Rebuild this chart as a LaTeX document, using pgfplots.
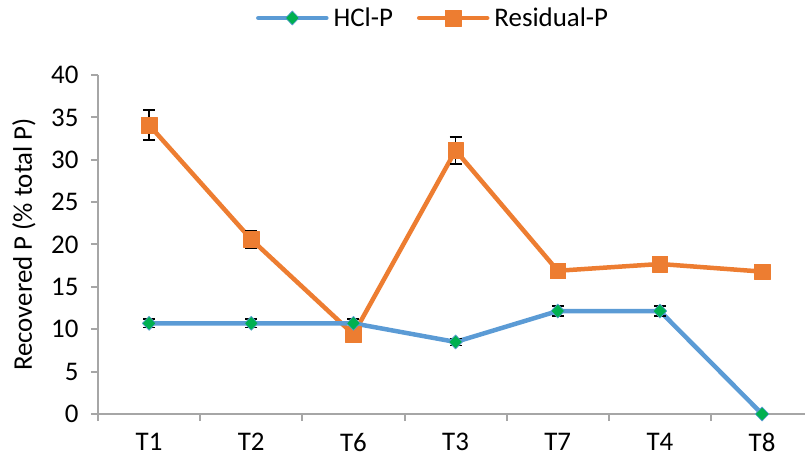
\documentclass[border=0pt]{standalone}
\usepackage{fontspec}
\setmainfont{Carlito}
\usepackage{pgfplots}
\usepackage{pgfplotstable}
\pgfplotsset{compat=1.18}
\usetikzlibrary{calc}
\definecolor{cblue}{HTML}{5B9BD5}
\definecolor{corange}{HTML}{ED7D31}
\definecolor{cgreen}{HTML}{00B050}
\definecolor{axisgray}{HTML}{A6A6A6}

\pgfplotstableread{
x y e
0 10.7 0.5
1 10.7 0.5
2 10.7 0.5
3 8.5 0.4
4 12.15 0.6
5 12.15 0.6
6 0 0
}\hcl
\pgfplotstableread{
x y e
0 34.1 1.75
1 20.6 1.0
2 9.4 0.5
3 31.1 1.6
4 16.9 0.7
5 17.7 0.8
6 16.8 0.6
}\res

\pgfplotsset{
  hclstyle/.style={color=cblue, line width=4.5bp, line join=round, line cap=round,
    mark=diamond*, mark size=7bp, mark options={fill=cgreen, draw=cblue, line width=0.6bp, xscale=1.3}},
  resstyle/.style={color=corange, line width=4.5bp, line join=round, line cap=round,
    mark=square*, mark size=7.8bp, mark options={fill=corange, draw=corange, line width=0.5bp}},
}

\begin{document}
\begin{tikzpicture}[font=\fontsize{27}{32}\selectfont]
\begin{axis}[
  scale only axis, width=707bp, height=339bp,
  xmin=-0.5, xmax=6.42, ymin=0, ymax=40,
  axis lines*=left,
  axis line style={draw=axisgray, line width=2bp},
  ytick={0,5,...,40},
  xtick={0,...,6}, xticklabels={T1,T2,T6,T3,T7,T4,T8},
  tick align=outside, major tick length=7bp,
  tick style={draw=axisgray, line width=2bp},
  xtick style={draw=none},
  extra x ticks={-0.5,0.5,1.5,2.5,3.5,4.5,5.5},
  extra x tick labels={},
  extra x tick style={xtick style={draw=axisgray, line width=2bp}},
  /pgf/number format/assume math mode=true,
  yticklabel style={xshift=-9bp},
  xticklabel style={yshift=-9bp},
  every axis y label/.style={at={(axis description cs:-0.1047,0.5)}, rotate=90, anchor=center},
  ylabel={Recovered P (\% total P)},
  clip=false,
  legend style={at={(0.474,1)}, anchor=center, yshift=57bp, draw=none, fill=none,
    legend columns=-1,
    /tikz/every odd column/.append style={column sep=3bp},
    /tikz/every even column/.append style={column sep=22bp}},
  legend image code/.code={\draw[mark repeat=2,mark phase=2] plot coordinates {(0bp,0bp) (34bp,0bp) (68bp,0bp)};},
]
\addlegendimage{hclstyle}
\addlegendentry{HCl-P}
\addlegendimage{resstyle}
\addlegendentry{Residual-P}

\addplot[resstyle, forget plot,
  error bars/.cd, y dir=both, y explicit,
  error bar style={black, line width=1.5bp, line cap=butt},
  error mark options={rotate=90, black, mark size=6bp, line width=1.5bp}]
  table[x=x, y=y, y error=e] {\res};
\addplot[hclstyle, forget plot,
  error bars/.cd, y dir=both, y explicit,
  error bar style={black, line width=1.5bp, line cap=butt},
  error mark options={rotate=90, black, mark size=6bp, line width=1.5bp}]
  table[x=x, y=y, y error=e] {\hcl};

\coordinate (ll) at (rel axis cs:0,0);
\coordinate (ur) at (rel axis cs:1,1);
\end{axis}
\pgfresetboundingbox
\path[use as bounding box] ($(ll)+(-98bp,-43bp)$) rectangle ($(ur)+(0,75bp)$);
\end{tikzpicture}
\end{document}
